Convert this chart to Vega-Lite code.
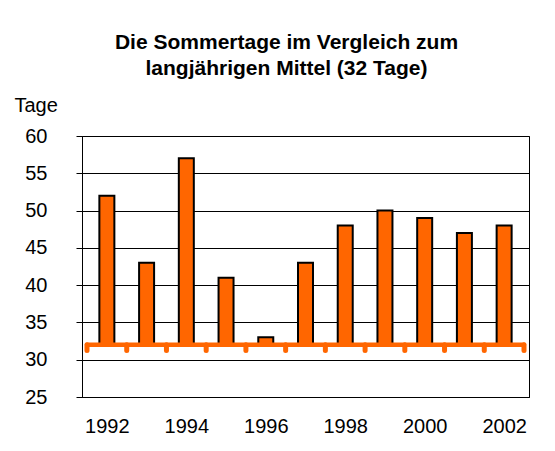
{
  "$schema": "https://vega.github.io/schema/vega-lite/v6.json",
  "width": 447,
  "height": 261,
  "autosize": "none",
  "padding": {"left": 82, "top": 136, "right": 26, "bottom": 54},
  "background": "white",
  "config": {
    "font": "Liberation Sans",
    "view": {"stroke": "black", "strokeWidth": 1}
  },
  "title": {
    "text": ["Die Sommertage im Vergleich zum", "langjährigen Mittel (32 Tage)"],
    "fontSize": 21,
    "fontWeight": "bold",
    "font": "Liberation Sans",
    "color": "black",
    "lineHeight": 26,
    "anchor": "middle",
    "dx": -19,
    "offset": 16
  },
  "datasets": {
    "tage": [
      {"jahr": 1992, "tage": 52},
      {"jahr": 1993, "tage": 43},
      {"jahr": 1994, "tage": 57},
      {"jahr": 1995, "tage": 41},
      {"jahr": 1996, "tage": 33},
      {"jahr": 1997, "tage": 43},
      {"jahr": 1998, "tage": 48},
      {"jahr": 1999, "tage": 50},
      {"jahr": 2000, "tage": 49},
      {"jahr": 2001, "tage": 47},
      {"jahr": 2002, "tage": 48}
    ],
    "grenzen": [
      {"x": 1991.5}, {"x": 1992.5}, {"x": 1993.5}, {"x": 1994.5},
      {"x": 1995.5}, {"x": 1996.5}, {"x": 1997.5}, {"x": 1998.5},
      {"x": 1999.5}, {"x": 2000.5}, {"x": 2001.5}, {"x": 2002.5}
    ],
    "mittel": [{"x1": 1991.5, "x2": 2002.5, "mittel": 32}]
  },
  "layer": [
    {
      "data": {"name": "tage"},
      "mark": {"type": "bar", "size": 15, "fill": "#FF6600", "stroke": "black", "strokeWidth": 2},
      "encoding": {
        "x": {
          "field": "jahr", "type": "quantitative",
          "scale": {"domain": [1991.5, 2002.5], "nice": false, "zero": false},
          "axis": {
            "title": null,
            "values": [1992, 1994, 1996, 1998, 2000, 2002],
            "tickCount": 20,
            "format": "d",
            "grid": false,
            "ticks": false,
            "domain": true,
            "domainColor": "black",
            "labelFontSize": 20,
            "labelColor": "black",
            "labelBaseline": "alphabetic",
            "labelPadding": 35,
            "labelFlush": false,
            "labelOverlap": false
          }
        },
        "y": {
          "field": "tage", "type": "quantitative",
          "scale": {"domain": [25, 60], "nice": false, "zero": false},
          "axis": {
            "title": "Tage",
            "titleAngle": 0,
            "titleFontSize": 20,
            "titleFontWeight": "normal",
            "titleColor": "black",
            "titleAlign": "left",
            "titleBaseline": "alphabetic",
            "titleX": -68,
            "titleY": -25,
            "values": [25, 30, 35, 40, 45, 50, 55, 60],
            "tickCount": 20,
            "grid": true,
            "gridColor": "black",
            "gridOpacity": 1,
            "gridWidth": 1,
            "domainColor": "black",
            "tickColor": "black",
            "tickSize": 6,
            "labelFontSize": 20,
            "labelColor": "black",
            "labelPadding": 29,
            "labelFlush": false,
            "labelOverlap": false
          }
        },
        "y2": {"datum": 32}
      }
    },
    {
      "data": {"name": "mittel"},
      "mark": {"type": "rule", "color": "#FF6600", "strokeWidth": 4.5, "strokeCap": "round"},
      "encoding": {
        "x": {"field": "x1", "type": "quantitative"},
        "x2": {"field": "x2"},
        "y": {"field": "mittel", "type": "quantitative"}
      }
    },
    {
      "data": {"name": "grenzen"},
      "mark": {"type": "rule", "color": "#FF6600", "strokeWidth": 5, "strokeCap": "round"},
      "encoding": {
        "x": {"field": "x", "type": "quantitative"},
        "y": {"datum": 32},
        "y2": {"datum": 31.25}
      }
    }
  ]
}
